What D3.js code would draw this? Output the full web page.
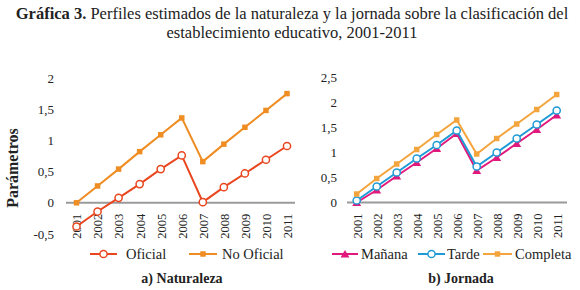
<!DOCTYPE html>
<html>
<head>
<meta charset="utf-8">
<script src="https://cdn.jsdelivr.net/npm/d3@7"></script>
<style>
  body { margin: 0; background: #fff; }
  svg { display: block; font-family: "Liberation Serif", "DejaVu Serif", serif; }
</style>
</head>
<body>
<div id="chart"></div>
<script>
// ---- data ----
const years = [2001, 2002, 2003, 2004, 2005, 2006, 2007, 2008, 2009, 2010, 2011];

const oficial    = [-0.38, -0.14, 0.08, 0.30, 0.54, 0.76, 0.01, 0.25, 0.47, 0.69, 0.91];
const noOficial  = [0.00, 0.27, 0.54, 0.82, 1.09, 1.36, 0.66, 0.94, 1.21, 1.48, 1.75];

const manana     = [0.00, 0.25, 0.53, 0.80, 1.08, 1.38, 0.64, 0.90, 1.18, 1.46, 1.75];
const tarde      = [0.04, 0.32, 0.60, 0.88, 1.15, 1.44, 0.72, 1.00, 1.28, 1.56, 1.84];
const completa   = [0.17, 0.48, 0.77, 1.06, 1.36, 1.65, 0.97, 1.28, 1.57, 1.86, 2.16];

const leftTicks  = [-0.5, 0, 0.5, 1, 1.5, 2];
const rightTicks = [0, 0.5, 1, 1.5, 2, 2.5];

const width = 580, height = 290;
const fmt = v => String(v).replace(".", ",");

const svg = d3.select("#chart").append("svg")
  .attr("width", width)
  .attr("height", height);

// ---- title ----
const title = svg.append("text")
  .attr("x", width / 2 + 2)
  .attr("y", 19)
  .attr("text-anchor", "middle")
  .attr("font-size", 16.5)
  .attr("fill", "#222");
title.append("tspan").attr("font-weight", "bold").text("Gráfica 3.");
title.append("tspan").text(" Perfiles estimados de la naturaleza y la jornada sobre la clasificación del");

svg.append("text")
  .attr("x", width / 2 + 2)
  .attr("y", 38)
  .attr("text-anchor", "middle")
  .attr("font-size", 16.5)
  .attr("fill", "#222")
  .text("establecimiento educativo, 2001-2011");

// ---- marker helpers ----
function drawMarker(g, type, color, x, y) {
  if (type === "circle") {
    g.append("circle").attr("cx", x).attr("cy", y).attr("r", 3.6)
      .attr("fill", "#fff").attr("stroke", color).attr("stroke-width", 1.5);
  } else if (type === "square") {
    g.append("path").attr("d", d3.symbol(d3.symbolSquare, 30)())
      .attr("transform", `translate(${x},${y})`).attr("fill", color);
  } else if (type === "triangle") {
    g.append("path").attr("d", d3.symbol(d3.symbolTriangle, 34)())
      .attr("transform", `translate(${x},${y + 1})`).attr("fill", color);
  }
}

function drawPanel(opt) {
  const x = d3.scalePoint().domain(years).range(opt.xRange);
  const y = d3.scaleLinear().domain(opt.yDomain).range(opt.yRange);
  const g = svg.append("g");

  // y tick labels (no axis line)
  g.append("g")
    .attr("transform", `translate(${opt.labelX},0)`)
    .call(d3.axisLeft(y).tickValues(opt.ticks).tickFormat(fmt).tickSize(0).tickPadding(0))
    .call(a => a.select(".domain").remove())
    .call(a => a.selectAll("text")
      .attr("font-family", "Liberation Serif, serif")
      .attr("font-size", 13)
      .attr("fill", "#222"));

  // zero line
  g.append("line")
    .attr("x1", opt.zeroLine[0]).attr("x2", opt.zeroLine[1])
    .attr("y1", y(0)).attr("y2", y(0))
    .attr("stroke", "#9a9a9a").attr("stroke-width", 2);

  // year labels
  g.append("g")
    .attr("transform", `translate(0,${y(0) + 11})`)
    .call(d3.axisBottom(x).tickSize(0).tickPadding(0))
    .call(a => a.select(".domain").remove())
    .call(a => a.selectAll("text")
      .attr("transform", "rotate(-90)")
      .attr("text-anchor", "end")
      .attr("x", 0).attr("y", 0).attr("dy", "0.35em")
      .attr("font-family", "Liberation Serif, serif")
      .attr("font-size", 12.5)
      .attr("fill", "#222"));

  const line = d3.line().x((d, i) => x(years[i])).y(d => y(d));

  opt.series.forEach(s => {
    g.append("path").datum(s.values)
      .attr("d", line)
      .attr("fill", "none")
      .attr("stroke", s.color)
      .attr("stroke-width", 2);
    s.values.forEach((v, i) => drawMarker(g, s.marker, s.color, x(years[i]), y(v)));
  });

  // legend
  opt.legend.forEach(l => {
    const s = opt.series.find(d => d.name === l.name);
    g.append("line")
      .attr("x1", l.x).attr("x2", l.x + l.len)
      .attr("y1", opt.legendY).attr("y2", opt.legendY)
      .attr("stroke", s.color).attr("stroke-width", 2);
    drawMarker(g, s.marker, s.color, l.x + l.len / 2, opt.legendY);
    g.append("text")
      .attr("x", l.x + l.len + l.gap)
      .attr("y", opt.legendY)
      .attr("dy", "0.35em")
      .attr("font-size", 14.5)
      .attr("fill", "#222")
      .text(s.name);
  });

  g.append("text")
    .attr("x", opt.subX).attr("y", 283)
    .attr("text-anchor", "middle")
    .attr("font-size", 14)
    .attr("font-weight", "bold")
    .attr("fill", "#222")
    .text(opt.subtitle);
}

// ---- panel a) Naturaleza ----
drawPanel({
  xRange: [76.5, 287],
  yDomain: [-0.5, 2], yRange: [234, 78],
  ticks: leftTicks, labelX: 54,
  zeroLine: [66, 295],
  series: [
    { name: "No Oficial", values: noOficial, color: "#ef8c22", marker: "square" },
    { name: "Oficial", values: oficial, color: "#e9461f", marker: "circle" }
  ],
  legendY: 254,
  legend: [
    { name: "Oficial", x: 90, len: 27, gap: 9 },
    { name: "No Oficial", x: 189, len: 28, gap: 5 }
  ],
  subX: 182, subtitle: "a) Naturaleza"
});

// ---- panel b) Jornada ----
drawPanel({
  xRange: [356.7, 556.7],
  yDomain: [0, 2.5], yRange: [202.5, 77.5],
  ticks: rightTicks, labelX: 337,
  zeroLine: [347, 567],
  series: [
    { name: "Mañana", values: manana, color: "#e2197c", marker: "triangle" },
    { name: "Tarde", values: tarde, color: "#1f9ad6", marker: "circle" },
    { name: "Completa", values: completa, color: "#f4a43d", marker: "square" }
  ],
  legendY: 254,
  legend: [
    { name: "Mañana", x: 332, len: 26, gap: 3 },
    { name: "Tarde", x: 418, len: 27, gap: 2 },
    { name: "Completa", x: 483, len: 29, gap: 3 }
  ],
  subX: 461, subtitle: "b) Jornada"
});

// y axis title
svg.append("text")
  .attr("transform", "translate(18,168) rotate(-90)")
  .attr("text-anchor", "middle")
  .attr("font-size", 16)
  .attr("font-weight", "bold")
  .attr("fill", "#222")
  .text("Parámetros");
</script>
</body>
</html>
